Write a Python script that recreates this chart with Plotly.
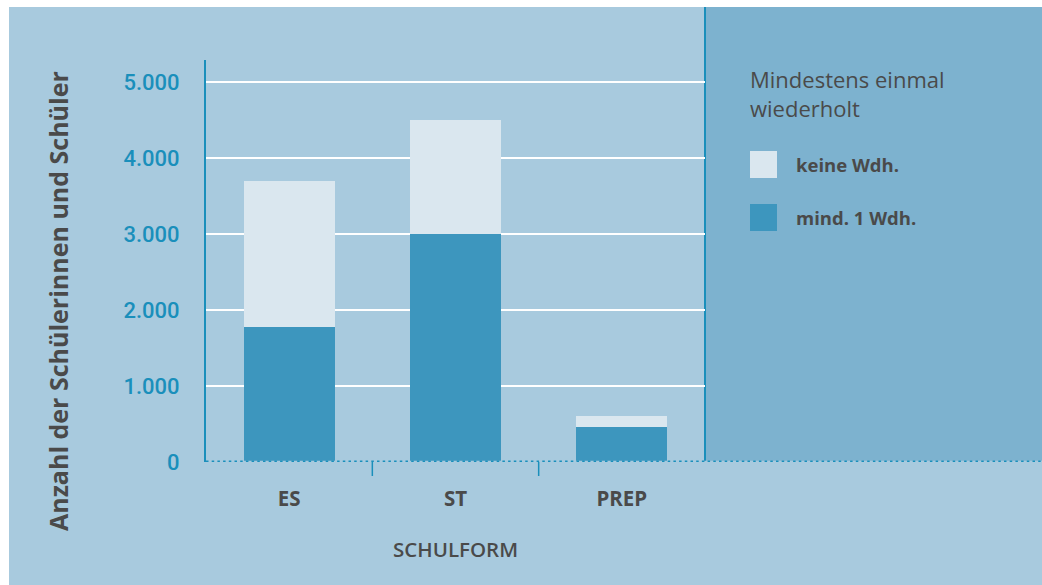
import plotly.graph_objects as go

# Schulformen und Anzahl der Schülerinnen und Schüler je Gruppe
categories = ["ES", "ST", "PREP"]
mind_1_wdh = [1780, 3000, 460]
keine_wdh = [1920, 1500, 140]

series_names = ["keine Wdh.", "mind. 1 Wdh."]
legend_title = "Mindestens einmal<br>wiederholt"
y_title = "Anzahl der Schülerinnen und Schüler"
x_title = "SCHULFORM"
y_tickvals = [0, 1000, 2000, 3000, 4000, 5000]
y_ticktext = ["0", "1.000", "2.000", "3.000", "4.000", "5.000"]

# colours
BG = "#a8cade"
PANEL = "#7db2cf"
DARK = "#3d96be"
LIGHT = "#dae7ef"
AXIS = "#1a8fbb"
TEXT = "#4a4a4a"

W, H = 1042, 585
L, R, T, B = 206, 337, 60, 123
PW, PH = W - L - R, H - T - B


def px_x(p):
    return (p - L) / PW


def px_y(p):
    return (H - B - p) / PH


fig = go.Figure()
fig.add_trace(go.Bar(x=categories, y=mind_1_wdh, name=series_names[1],
                     marker=dict(color=DARK, line=dict(width=0)), width=0.547))
fig.add_trace(go.Bar(x=categories, y=keine_wdh, name=series_names[0],
                     marker=dict(color=LIGHT, line=dict(width=0)), width=0.547))

shapes = [
    # chart background and right-hand legend panel
    dict(type="rect", xref="paper", yref="paper", x0=px_x(9), x1=px_x(W + 5),
         y0=px_y(H + 5), y1=px_y(7), fillcolor=BG, line=dict(width=0), layer="below"),
    dict(type="rect", xref="paper", yref="paper", x0=1, x1=px_x(W + 5),
         y0=0, y1=px_y(7), fillcolor=PANEL, line=dict(width=0), layer="below"),
    dict(type="line", xref="paper", yref="paper", x0=1, x1=1, y0=0, y1=px_y(7),
         line=dict(color=AXIS, width=2), layer="below"),
    # dotted baseline
    dict(type="line", xref="paper", yref="y", x0=0, x1=px_x(W + 5), y0=0, y1=0,
         line=dict(color=BG, width=2.5), layer="above"),
    dict(type="line", xref="paper", yref="y", x0=0, x1=px_x(W + 5), y0=0, y1=0,
         line=dict(color=AXIS, width=3, dash="2.5px,3.2px"), layer="above"),
]
# tick marks between categories
for b in [0.5, 1.5]:
    shapes.append(dict(type="line", xref="x", yref="paper", x0=b, x1=b,
                       y0=px_y(476), y1=0, line=dict(color=AXIS, width=1.5)))

annotations = [
    dict(text=y_title, xref="paper", yref="paper", x=px_x(58), y=px_y(301),
         textangle=-90, showarrow=False, xanchor="center", yanchor="middle",
         font=dict(family="Open Sans", size=25, color=TEXT, weight=700)),
    dict(text=x_title, xref="paper", yref="paper", x=0.5, y=px_y(549),
         showarrow=False, xanchor="center", yanchor="middle",
         font=dict(family="Open Sans", size=20.5, color=TEXT, weight=600)),
    dict(text=legend_title, xref="paper", yref="paper", x=px_x(748), y=px_y(62),
         showarrow=False, xanchor="left", yanchor="top", align="left",
         font=dict(family="Open Sans", size=22, color=TEXT)),
]

# legend entries
for name, color, cy in [(series_names[0], LIGHT, 164.5), (series_names[1], DARK, 217.5)]:
    shapes.append(dict(type="rect", xref="paper", yref="paper",
                       x0=px_x(750), x1=px_x(777), y0=px_y(cy + 13.5), y1=px_y(cy - 13.5),
                       fillcolor=color, line=dict(width=0)))
    annotations.append(dict(text=name, xref="paper", yref="paper", x=px_x(794), y=px_y(cy),
                            showarrow=False, xanchor="left", yanchor="middle",
                            font=dict(family="Open Sans", size=18.5, color=TEXT, weight=700)))

fig.update_layout(
    width=W, height=H,
    margin=dict(l=L, r=R, t=T, b=B, pad=0),
    paper_bgcolor="white",
    plot_bgcolor="rgba(0,0,0,0)",
    barmode="stack",
    showlegend=False,
    shapes=shapes,
    annotations=annotations,
    xaxis=dict(range=[-0.5, 2.5], showgrid=False, zeroline=False, showline=False,
               ticks="", ticklabelstandoff=22,
               tickfont=dict(family="Open Sans", size=20.5, color=TEXT, weight=700)),
    yaxis=dict(range=[0, PH / 0.076], tickvals=y_tickvals, ticktext=y_ticktext,
               showgrid=True, gridcolor="white", gridwidth=1.5, zeroline=False,
               showline=True, linecolor=AXIS, linewidth=2, ticks="",
               ticklabelstandoff=20,
               tickfont=dict(family="Roboto", size=22, color=AXIS, weight=500)),
)

fig.write_html("out.html")
